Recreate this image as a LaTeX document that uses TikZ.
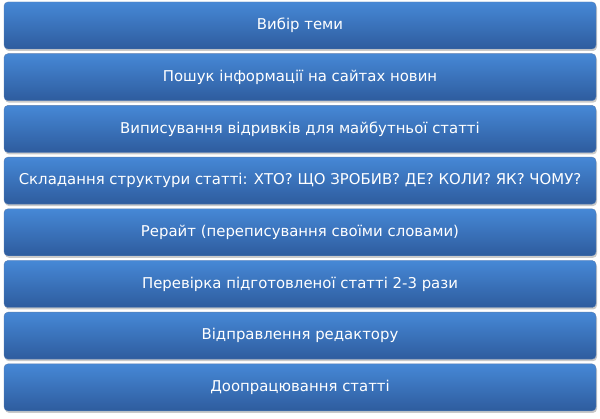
\documentclass[tikz,border=0pt]{standalone}
\usepackage{fontspec}
\setmainfont{DejaVu Sans}
\usetikzlibrary{shadows}
\definecolor{btop}{RGB}{70,136,214}
\definecolor{bbot}{RGB}{46,92,158}
\tikzset{
  stepbox/.style={rounded corners=4pt, minimum width=592pt, minimum height=47pt,
    top color=btop, bottom color=bbot, draw=bbot!80!white, line width=0.4pt,
    text=white, font=\fontsize{14.9}{17}\selectfont, inner sep=0pt,
    drop shadow={shadow xshift=1pt, shadow yshift=-2pt, opacity=0.35, fill=black!60}}
}
\begin{document}
\begin{tikzpicture}[x=1pt,y=-1pt]
\useasboundingbox (0,0) rectangle (600,419);
\node[stepbox] (s1) at (300,25.5) {Вибір теми};
\node[stepbox] (s2) at (300,77.2) {Пошук інформації на сайтах новин};
\node[stepbox] (s3) at (300,128.9) {Виписування відривків для майбутньої статті};
\node[stepbox] (s4) at (300,180.6) {Складання структури статті: ХТО? ЩО ЗРОБИВ? ДЕ? КОЛИ? ЯК? ЧОМУ?};
\node[stepbox] (s5) at (300,232.3) {Рерайт (переписування своїми словами)};
\node[stepbox] (s6) at (300,284.0) {Перевірка підготовленої статті 2-3 рази};
\node[stepbox] (s7) at (300,335.7) {Відправлення редактору};
\node[stepbox] (s8) at (300,387.4) {Доопрацювання статті};
\end{tikzpicture}
\end{document}
